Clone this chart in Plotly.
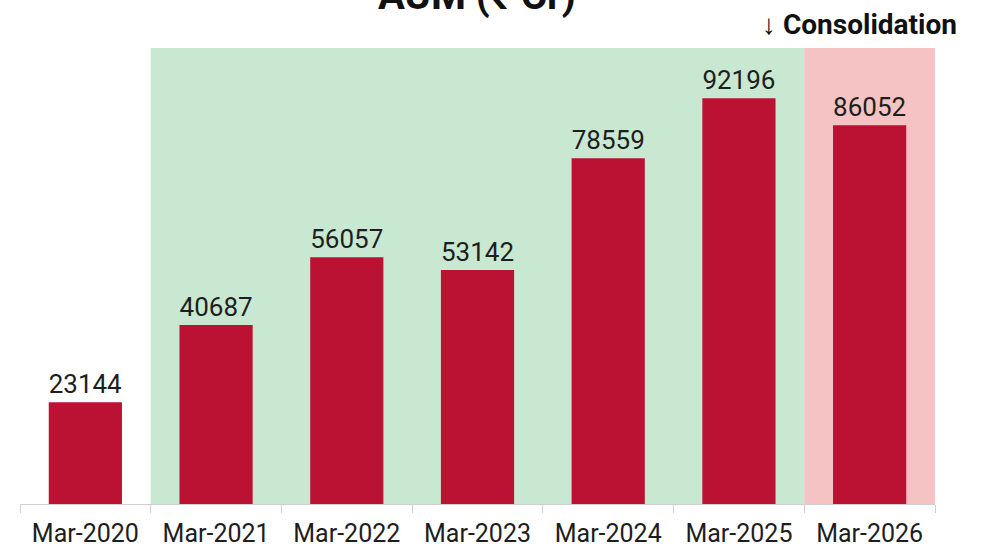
import plotly.graph_objects as go

# AUM by financial year end (₹ Cr)
periods = ["Mar-2020", "Mar-2021", "Mar-2022", "Mar-2023", "Mar-2024", "Mar-2025", "Mar-2026"]
aum = [23144, 40687, 56057, 53142, 78559, 92196, 86052]

bar_color = "#BB1234"
growth_fill = "#C8E8D2"
consolidation_fill = "#F5C3C3"
text_color = "#1E1E1E"

fig = go.Figure()
fig.add_trace(go.Bar(
    x=periods,
    y=aum,
    marker=dict(color=bar_color, line=dict(width=0)),
    text=[str(v) for v in aum],
    textposition="outside",
    textfont=dict(family="Roboto", size=26, color=text_color),
    cliponaxis=False,
    hoverinfo="x+y",
))

# Shaded phases: growth (Mar-2021 .. Mar-2025) and consolidation (Mar-2026)
fig.add_shape(type="rect", xref="x", yref="paper", x0=0.5, x1=5.5, y0=0, y1=1,
              fillcolor=growth_fill, line=dict(width=0), layer="below")
fig.add_shape(type="rect", xref="x", yref="paper", x0=5.5, x1=6.5, y0=0, y1=1,
              fillcolor=consolidation_fill, line=dict(width=0), layer="below")

fig.add_annotation(text="<b>AUM (₹ Cr)</b>", xref="paper", yref="paper",
                   x=0.499, y=1.115, xanchor="center", yanchor="middle",
                   showarrow=False, font=dict(family="Roboto", size=40, color="#111111"))
fig.add_annotation(text="<b>↓ Consolidation</b>", xref="paper", yref="paper",
                   x=0.917, y=1.052, xanchor="center", yanchor="middle",
                   showarrow=False, font=dict(family="Roboto", size=28, color="#111111"))

fig.update_layout(
    width=981, height=553,
    margin=dict(l=20, r=46, t=48, b=49, autoexpand=False),
    paper_bgcolor="white",
    plot_bgcolor="white",
    showlegend=False,
    bargap=0.44,
    xaxis=dict(
        showline=True, linecolor="#CFCFCF", linewidth=1,
        ticks="outside", tickson="boundaries", ticklen=8, tickcolor="#CFCFCF",
        tickfont=dict(family="Roboto", size=25, color=text_color),
        ticklabelstandoff=7, automargin=False,
        showgrid=False, fixedrange=True,
    ),
    yaxis=dict(
        range=[0, 103600], visible=False, showgrid=False, zeroline=False,
        fixedrange=True,
    ),
)

fig.write_html("out.html")
